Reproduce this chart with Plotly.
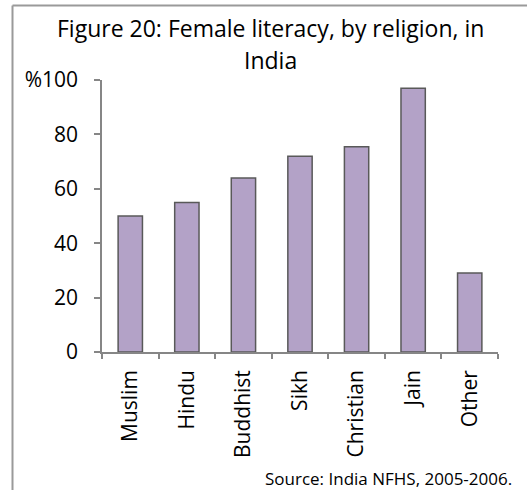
import plotly.graph_objects as go

# Female literacy by religion, India (NFHS 2005-2006)
religions = ["Muslim", "Hindu", "Buddhist", "Sikh", "Christian", "Jain", "Other"]
literacy_pct = [50, 55, 64, 72, 75.5, 97, 29]
y_tick_vals = [0, 20, 40, 60, 80, 100]
y_tick_text = ["0", "20", "40", "60", "80", "%100"]

W, H = 527, 490
ML, MR, MT, MB = 102, 29, 80, 138
PW, PH = W - ML - MR, H - MT - MB

def px_to_paper_x(px):
    return (px - ML) / PW

def px_to_paper_y(py):
    return (H - MB - py) / PH

axis_col = "#868686"
font_family = "Open Sans, Noto Sans, sans-serif"

fig = go.Figure(
    go.Bar(
        x=religions,
        y=literacy_pct,
        marker=dict(color="#B3A2C7", line=dict(color="#595959", width=1.5)),
        width=0.43,
    )
)

fig.update_layout(
    width=W,
    height=H,
    margin=dict(l=ML, r=MR, t=MT, b=MB),
    paper_bgcolor="white",
    plot_bgcolor="white",
    showlegend=False,
    font=dict(family=font_family, color="#000000"),
    bargap=0.57,
)

fig.update_xaxes(
    showline=True,
    linecolor=axis_col,
    linewidth=1.5,
    ticks="outside",
    tickcolor=axis_col,
    ticklen=5,
    tickwidth=1.5,
    tickson="boundaries",
    tickangle=-90,
    tickfont=dict(size=21),
    ticklabelstandoff=8,
    showgrid=False,
    range=[-0.5, 6.5],
)

fig.update_yaxes(
    range=[0, 100],
    tickvals=y_tick_vals,
    ticktext=y_tick_text,
    showline=True,
    linecolor=axis_col,
    linewidth=1.5,
    ticks="outside",
    tickcolor=axis_col,
    ticklen=6,
    tickwidth=1.5,
    tickfont=dict(size=21),
    ticklabelstandoff=12,
    showgrid=False,
    zeroline=False,
)

# Chart frame: left and top edges
fig.add_shape(
    type="line", xref="paper", yref="paper",
    x0=px_to_paper_x(12.5), x1=px_to_paper_x(12.5),
    y0=px_to_paper_y(5.5), y1=px_to_paper_y(495),
    line=dict(color="#9A9A9A", width=2),
)
fig.add_shape(
    type="line", xref="paper", yref="paper",
    x0=px_to_paper_x(12.5), x1=px_to_paper_x(535),
    y0=px_to_paper_y(5.5), y1=px_to_paper_y(5.5),
    line=dict(color="#9A9A9A", width=2),
)

# Title (two lines)
fig.add_annotation(
    text="Figure 20: Female literacy, by religion, in",
    xref="paper", yref="paper",
    x=px_to_paper_x(270), y=px_to_paper_y(28),
    xanchor="center", yanchor="middle",
    showarrow=False, font=dict(size=23),
)
fig.add_annotation(
    text="India",
    xref="paper", yref="paper",
    x=px_to_paper_x(270), y=px_to_paper_y(60),
    xanchor="center", yanchor="middle",
    showarrow=False, font=dict(size=23),
)

# Source note
fig.add_annotation(
    text="Source: India NFHS, 2005-2006.",
    xref="paper", yref="paper",
    x=px_to_paper_x(514), y=px_to_paper_y(478),
    xanchor="right", yanchor="middle",
    showarrow=False, font=dict(size=17),
)

fig.write_html("out.html")
